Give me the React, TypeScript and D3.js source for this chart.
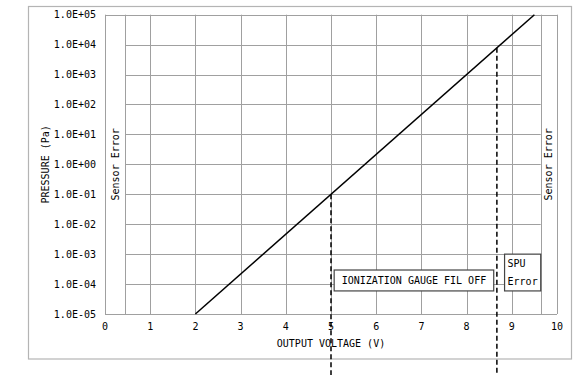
import React, { useRef, useEffect } from 'react'
import * as d3 from 'd3'

// axis ticks
const xTicks = [0, 1, 2, 3, 4, 5, 6, 7, 8, 9, 10]
const yExponents = [-5, -4, -3, -2, -1, 0, 1, 2, 3, 4, 5]

// characteristic line: output voltage (V) -> pressure (Pa)
const curve = [
  { v: 2, p: 1e-5 },
  { v: 9.5, p: 1e5 },
]

// sensor error zones (V)
const errLow = 0.45
const errHigh = 9.64

// dashed guide lines, from curve down past the axis
const guides = [
  { v: 5, p: 1e-1 },
  { v: 8.67, p: 7.8e3 },
]

// annotation boxes
const boxes = [
  { lines: ['IONIZATION GAUGE FIL OFF'], v0: 5.07, v1: 8.6, pTop: 2.95e-4, pBot: 5.9e-5, align: 'middle' },
  { lines: ['SPU', 'Error'], v0: 8.84, v1: 9.64, pTop: 1e-3, pBot: 5.9e-5, align: 'start' },
]

const fmtExp = (e: number) =>
  `1.0E${e >= 0 ? '+' : '-'}${String(Math.abs(e)).padStart(2, '0')}`

export default function App() {
  const svgRef = useRef<SVGSVGElement>(null)
  const width = 588
  const height = 375

  useEffect(() => {
    const svg = d3.select(svgRef.current)
    svg.selectAll('*').remove()

    const font = '"DejaVu Sans Mono", monospace'
    const grid = '#a0a0a0'

    const x = d3.scaleLinear().domain([0, 10]).range([105, 557])
    const y = d3.scaleLog().domain([1e-5, 1e5]).range([314, 14.7])

    svg.append('rect')
      .attr('width', width).attr('height', height).attr('fill', '#fff')

    // outer frame
    svg.append('rect')
      .attr('x', 28.5).attr('y', 6.5)
      .attr('width', 543).attr('height', 352.5)
      .attr('fill', 'none').attr('stroke', '#b4b4b4').attr('stroke-width', 1.2)

    const g = svg.append('g')

    // vertical grid lines
    const vLines = [0, errLow, 1, 2, 3, 4, 5, 6, 7, 8, 9, errHigh, 10]
    g.selectAll('.vg').data(vLines).join('line')
      .attr('x1', d => Math.round(x(d)) + 0.5).attr('x2', d => Math.round(x(d)) + 0.5)
      .attr('y1', y(1e5)).attr('y2', y(1e-5))
      .attr('stroke', grid).attr('stroke-width', 1)

    // horizontal grid lines (inside valid zone) and borders
    g.selectAll('.hg').data(yExponents.slice(1, -1)).join('line')
      .attr('x1', x(errLow)).attr('x2', x(errHigh))
      .attr('y1', d => Math.round(y(10 ** d)) + 0.5).attr('y2', d => Math.round(y(10 ** d)) + 0.5)
      .attr('stroke', grid).attr('stroke-width', 1)
    g.selectAll('.hb').data([yExponents[0], yExponents[yExponents.length - 1]]).join('line')
      .attr('x1', x(0)).attr('x2', x(10))
      .attr('y1', d => Math.round(y(10 ** d)) + 0.5).attr('y2', d => Math.round(y(10 ** d)) + 0.5)
      .attr('stroke', grid).attr('stroke-width', 1)

    // tick labels
    g.selectAll('.xt').data(xTicks).join('text')
      .attr('x', d => x(d)).attr('y', 330)
      .attr('text-anchor', 'middle')
      .style('font-family', font).style('font-size', '10px')
      .text(d => d)

    g.selectAll('.yt').data(yExponents).join('text')
      .attr('x', 96).attr('y', d => y(10 ** d))
      .attr('dy', '0.35em')
      .attr('text-anchor', 'end')
      .style('font-family', font).style('font-size', '10px')
      .text(d => fmtExp(d))

    // axis titles
    svg.append('text')
      .attr('x', x(5)).attr('y', 347)
      .attr('text-anchor', 'middle')
      .style('font-family', font).style('font-size', '10px')
      .text('OUTPUT VOLTAGE (V)')

    svg.append('text')
      .attr('transform', `translate(49,${(y(1e5) + y(1e-5)) / 2}) rotate(-90)`)
      .attr('text-anchor', 'middle')
      .style('font-family', font).style('font-size', '10px')
      .text('PRESSURE (Pa)')

    // sensor error labels
    const errLabels = [(0 + errLow) / 2, (errHigh + 10) / 2]
    g.selectAll('.se').data(errLabels).join('text')
      .attr('transform', d => `translate(${x(d) + 3.5},${(y(1e5) + y(1e-5)) / 2}) rotate(-90)`)
      .attr('text-anchor', 'middle')
      .style('font-family', font).style('font-size', '10px')
      .text('Sensor Error')

    // annotation boxes
    const bg = g.selectAll('.box').data(boxes).join('g')
    bg.append('rect')
      .attr('x', d => x(d.v0)).attr('y', d => y(d.pTop))
      .attr('width', d => x(d.v1) - x(d.v0))
      .attr('height', d => y(d.pBot) - y(d.pTop))
      .attr('fill', '#fff').attr('stroke', '#444').attr('stroke-width', 1.2)
    bg.each(function (d) {
      const sel = d3.select(this)
      const top = y(d.pTop), bot = y(d.pBot)
      const n = d.lines.length
      d.lines.forEach((t, i) => {
        sel.append('text')
          .attr('x', d.align === 'middle' ? (x(d.v0) + x(d.v1)) / 2 : x(d.v0) + 3)
          .attr('y', top + (bot - top) * (i + 0.5) / n)
          .attr('dy', '0.35em')
          .attr('text-anchor', d.align)
          .style('font-family', font).style('font-size', '10px')
          .text(t)
      })
    })

    // main characteristic line
    const line = d3.line<{ v: number; p: number }>()
      .x(d => x(d.v)).y(d => y(d.p))
    g.append('path')
      .datum(curve)
      .attr('fill', 'none').attr('stroke', '#000').attr('stroke-width', 1.5)
      .attr('d', line)

    // dashed guides
    g.selectAll('.guide').data(guides).join('line')
      .attr('x1', d => x(d.v)).attr('x2', d => x(d.v))
      .attr('y1', d => y(d.p)).attr('y2', height)
      .attr('stroke', '#000').attr('stroke-width', 1.5)
      .attr('stroke-dasharray', '5,3')
  }, [])

  return (
    <svg
      ref={svgRef}
      width={width}
      height={height}
      style={{ position: 'absolute', left: 0, top: 0 }}
    />
  )
}
